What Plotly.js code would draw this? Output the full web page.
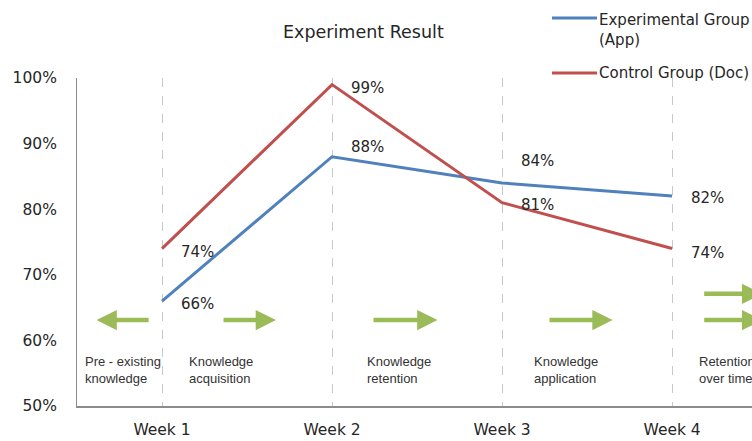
<!DOCTYPE html>
<html><head><meta charset="utf-8">
<script src="https://cdn.plot.ly/plotly-3.0.1.min.js"></script>
<style>html,body{margin:0;padding:0;background:#fff;overflow:hidden}</style>
</head><body>
<div id="chart" style="width:752px;height:441px"></div>
<script>
// ---- data ----
const weeks = ["Week 1", "Week 2", "Week 3", "Week 4"];
const experimentalApp = [66, 88, 84, 82];
const controlDoc = [74, 99, 81, 74];
const seriesNames = ["Experimental Group<br>(App)", "Control Group (Doc)"];
const stageLabels = ["Pre - existing<br>knowledge", "Knowledge<br>acquisition", "Knowledge<br>retention", "Knowledge<br>application", "Retention<br>over time"];
const yTicks = [50, 60, 70, 80, 90, 100];
const titleText = "Experiment Result";

// ---- styling / positions (not data) ----
const blue = "#4F81BD", red = "#C0504D", green = "#9BBB59";
const mainFont = "'DejaVu Sans', sans-serif";
const narrowFont = "'Liberation Sans Narrow', 'Arial Narrow', 'Liberation Sans', sans-serif";
const expShift = [-3, 10, 22, -2];
const ctlShift = [-3, -3, -2, -4];
const stageX = [-0.465, 0.147, 1.194, 2.176, 3.147];
const stageY = 55.5;
// arrows: [tailX, tipX, y]
const arrows = [[-0.07, -0.385, 63.1], [0.353, 0.67, 63.1], [1.235, 1.62, 63.1], [2.27, 2.65, 63.1], [3.18, 3.53, 67.1], [3.18, 3.53, 63.1]];

const xIdx = weeks.map((w, i) => i);

const traces = [
  {x: xIdx, y: experimentalApp, mode: "lines", line: {color: blue, width: 3}, name: seriesNames[0], showlegend: false, cliponaxis: false},
  {x: xIdx, y: controlDoc, mode: "lines", line: {color: red, width: 3}, name: seriesNames[1], showlegend: false, cliponaxis: false}
];

const labelFont = {family: mainFont, size: 15, color: "#262626"};
const annotations = [];
experimentalApp.forEach((v, i) => annotations.push({x: i, y: v, xref: "x", yref: "y", text: v + "%", showarrow: false, xanchor: "left", yanchor: "middle", xshift: 17, yshift: expShift[i], font: labelFont}));
controlDoc.forEach((v, i) => annotations.push({x: i, y: v, xref: "x", yref: "y", text: v + "%", showarrow: false, xanchor: "left", yanchor: "middle", xshift: 17, yshift: ctlShift[i], font: labelFont}));
stageLabels.forEach((t, i) => annotations.push({x: stageX[i], y: stageY, xref: "x", yref: "y", text: t, showarrow: false, xanchor: "left", yanchor: "middle", align: "left", font: {family: narrowFont, size: 13, color: "#333"}}));
arrows.forEach(a => annotations.push({x: a[1], y: a[2], ax: a[0], ay: a[2], xref: "x", yref: "y", axref: "x", ayref: "y", text: "", showarrow: true, arrowhead: 2, arrowsize: 0.9, arrowwidth: 4.5, arrowcolor: green, standoff: 0, startstandoff: 0}));

// title
annotations.push({xref: "paper", yref: "paper", x: (363 - 77) / 675, y: (406 - 32) / 328, text: titleText, showarrow: false, xanchor: "center", yanchor: "middle", font: {family: mainFont, size: 17.5, color: "#262626"}});

// legend (manual)
const legY = [18, 73];
const legTextY = [30, 73];
const legColors = [blue, red];
const shapes = [];
legColors.forEach((c, i) => {
  shapes.push({type: "line", xref: "paper", yref: "paper", x0: (552 - 77) / 675, x1: (597 - 77) / 675, y0: (406 - legY[i]) / 328, y1: (406 - legY[i]) / 328, line: {color: c, width: 3}});
  annotations.push({xref: "paper", yref: "paper", x: (597 - 77) / 675, y: (406 - legTextY[i]) / 328, text: seriesNames[i], showarrow: false, xanchor: "left", yanchor: "middle", align: "left", font: {family: mainFont, size: 15, color: "#262626"}});
});

const layout = {
  width: 752, height: 441,
  margin: {l: 77, r: 0, t: 78, b: 35},
  paper_bgcolor: "#fff", plot_bgcolor: "#fff",
  showlegend: false,
  xaxis: {range: [-0.5, 3.47], tickvals: xIdx, ticktext: weeks, showgrid: true, gridcolor: "#c8c8c8", griddash: "dash", gridwidth: 1,
          zeroline: false, showline: true, linecolor: "#8c8c8c", linewidth: 1.5, ticks: "", ticklabelstandoff: 9,
          tickfont: {family: mainFont, size: 15.5, color: "#262626"}, fixedrange: true},
  yaxis: {range: [50, 100], tickvals: yTicks, ticktext: yTicks.map(v => v + "%"), showgrid: false, zeroline: false,
          showline: true, linecolor: "#8c8c8c", linewidth: 1, ticks: "", ticklabelstandoff: 16,
          tickfont: {family: mainFont, size: 15.5, color: "#262626"}, fixedrange: true},
  annotations: annotations,
  shapes: shapes
};

Plotly.newPlot("chart", traces, layout, {displayModeBar: false, staticPlot: true});
</script>
</body></html>
